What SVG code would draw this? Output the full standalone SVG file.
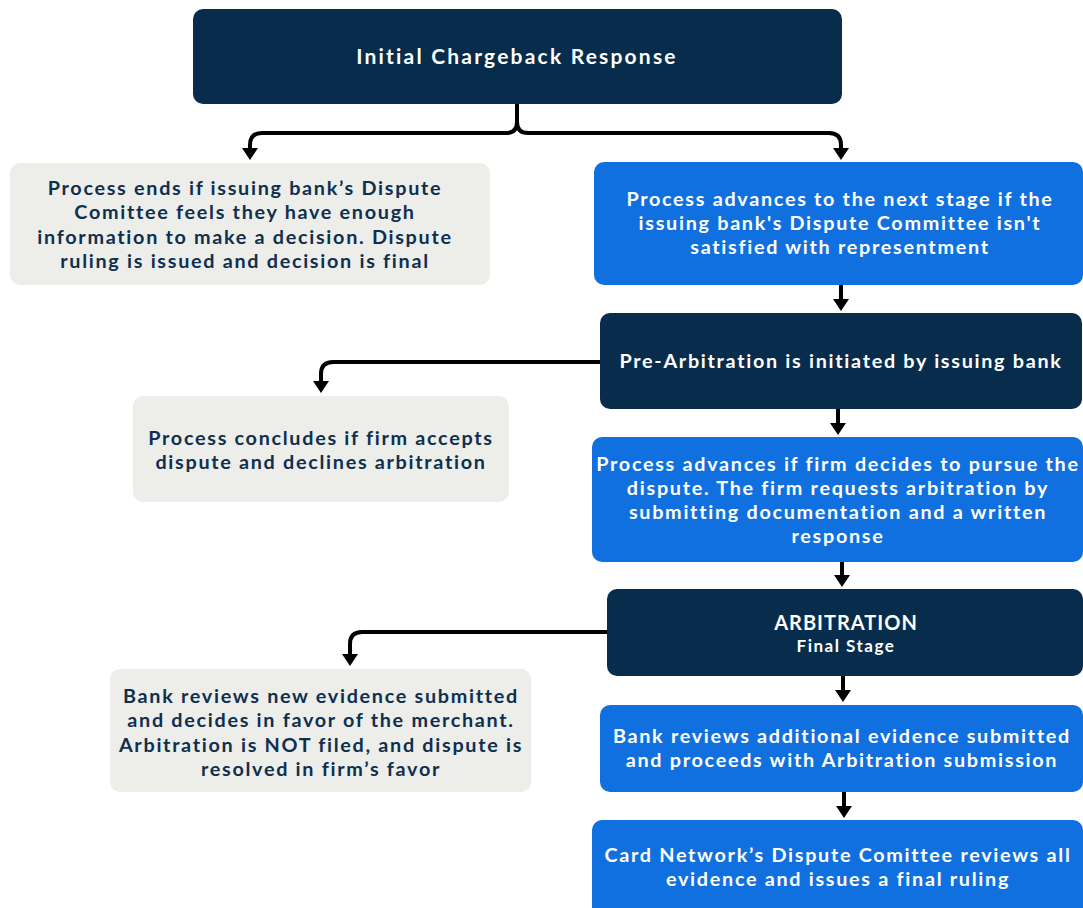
<svg xmlns="http://www.w3.org/2000/svg" width="1083" height="908" viewBox="0 0 1083 908">
<defs>
<marker id="ah" markerUnits="userSpaceOnUse" viewBox="0 0 12 16" markerWidth="12" markerHeight="16" refX="4" refY="8" orient="auto">
<path d="M0,0 L12,8 L0,16 z" fill="#000"/>
</marker>
</defs>
<style>
.dark{fill:#082c4b}
.blue{fill:#1170e0}
.grey{fill:#edede9}
text{font-family:Lato,"Open Sans","Liberation Sans",sans-serif;font-weight:700;text-anchor:middle;letter-spacing:1.7px}
.w{fill:#ffffff;font-size:19.8px}
.n{fill:#0f2f4f;font-size:19.8px}
.c{fill:none;stroke:#000;stroke-width:4;marker-end:url(#ah)}
</style>
<rect width="1083" height="908" fill="#ffffff"/>
<g id="connectors">
<path class="c" d="M517,104 V122 Q517,133 506,133 H262 Q250,133 250,145 V152"/>
<path class="c" d="M517,104 V122 Q517,133 528,133 H829 Q841,133 841,145 V152"/>
<path class="c" d="M841,285 V303"/>
<path class="c" d="M600,362 H333 Q321,362 321,374 V385"/>
<path class="c" d="M838,409 V427"/>
<path class="c" d="M842,562 V579"/>
<path class="c" d="M607,632 H362 Q350,632 350,644 V658"/>
<path class="c" d="M843,676 V694"/>
<path class="c" d="M844,792 V810"/>
</g>
<g id="n1"><rect class="dark" x="193" y="9" width="649" height="95" rx="10"/><text class="w" x="517" y="64" style="font-size:21px;letter-spacing:2.2px">Initial Chargeback Response</text></g>
<g id="n2"><rect class="grey" x="10" y="163" width="480" height="122" rx="10"/>
<text class="n" x="245" y="195">Process ends if issuing bank’s Dispute</text>
<text class="n" x="245" y="219">Comittee feels they have enough</text>
<text class="n" x="245" y="244">information to make a decision. Dispute</text>
<text class="n" x="245" y="268">ruling is issued and decision is final</text></g>
<g id="n3"><rect class="blue" x="594" y="162" width="489" height="123" rx="10"/>
<text class="w" x="840" y="206">Process advances to the next stage if the</text>
<text class="w" x="840" y="230">issuing bank's Dispute Committee isn't</text>
<text class="w" x="840" y="254">satisfied with representment</text></g>
<g id="n4"><rect class="dark" x="600" y="313" width="482" height="96" rx="10"/>
<text class="w" x="841" y="368">Pre-Arbitration is initiated by issuing bank</text></g>
<g id="n5"><rect class="grey" x="133" y="396" width="376" height="106" rx="10"/>
<text class="n" x="321" y="445">Process concludes if firm accepts</text>
<text class="n" x="321" y="469">dispute and declines arbitration</text></g>
<g id="n6"><rect class="blue" x="592" y="437" width="491" height="125" rx="10"/>
<text class="w" x="838" y="471">Process advances if firm decides to pursue the</text>
<text class="w" x="838" y="495">dispute. The firm requests arbitration by</text>
<text class="w" x="838" y="519">submitting documentation and a written</text>
<text class="w" x="838" y="543">response</text></g>
<g id="n7"><rect class="dark" x="607" y="589" width="476" height="87" rx="10"/>
<text class="w" x="846" y="630" style="font-size:20px;letter-spacing:1px">ARBITRATION</text>
<text class="w" x="846" y="652" style="font-size:17px;letter-spacing:1.5px">Final Stage</text></g>
<g id="n8"><rect class="grey" x="110" y="669" width="421" height="123" rx="10"/>
<text class="n" x="321" y="703">Bank reviews new evidence submitted</text>
<text class="n" x="321" y="727">and decides in favor of the merchant.</text>
<text class="n" x="321" y="752">Arbitration is NOT filed, and dispute is</text>
<text class="n" x="321" y="776">resolved in firm’s favor</text></g>
<g id="n9"><rect class="blue" x="600" y="705" width="483" height="87" rx="10"/>
<text class="w" x="842" y="743">Bank reviews additional evidence submitted</text>
<text class="w" x="842" y="767">and proceeds with Arbitration submission</text></g>
<g id="n10"><rect class="blue" x="592" y="820" width="491" height="98" rx="10"/>
<text class="w" x="838" y="862">Card Network’s Dispute Comittee reviews all</text>
<text class="w" x="838" y="886">evidence and issues a final ruling</text></g>
</svg>
